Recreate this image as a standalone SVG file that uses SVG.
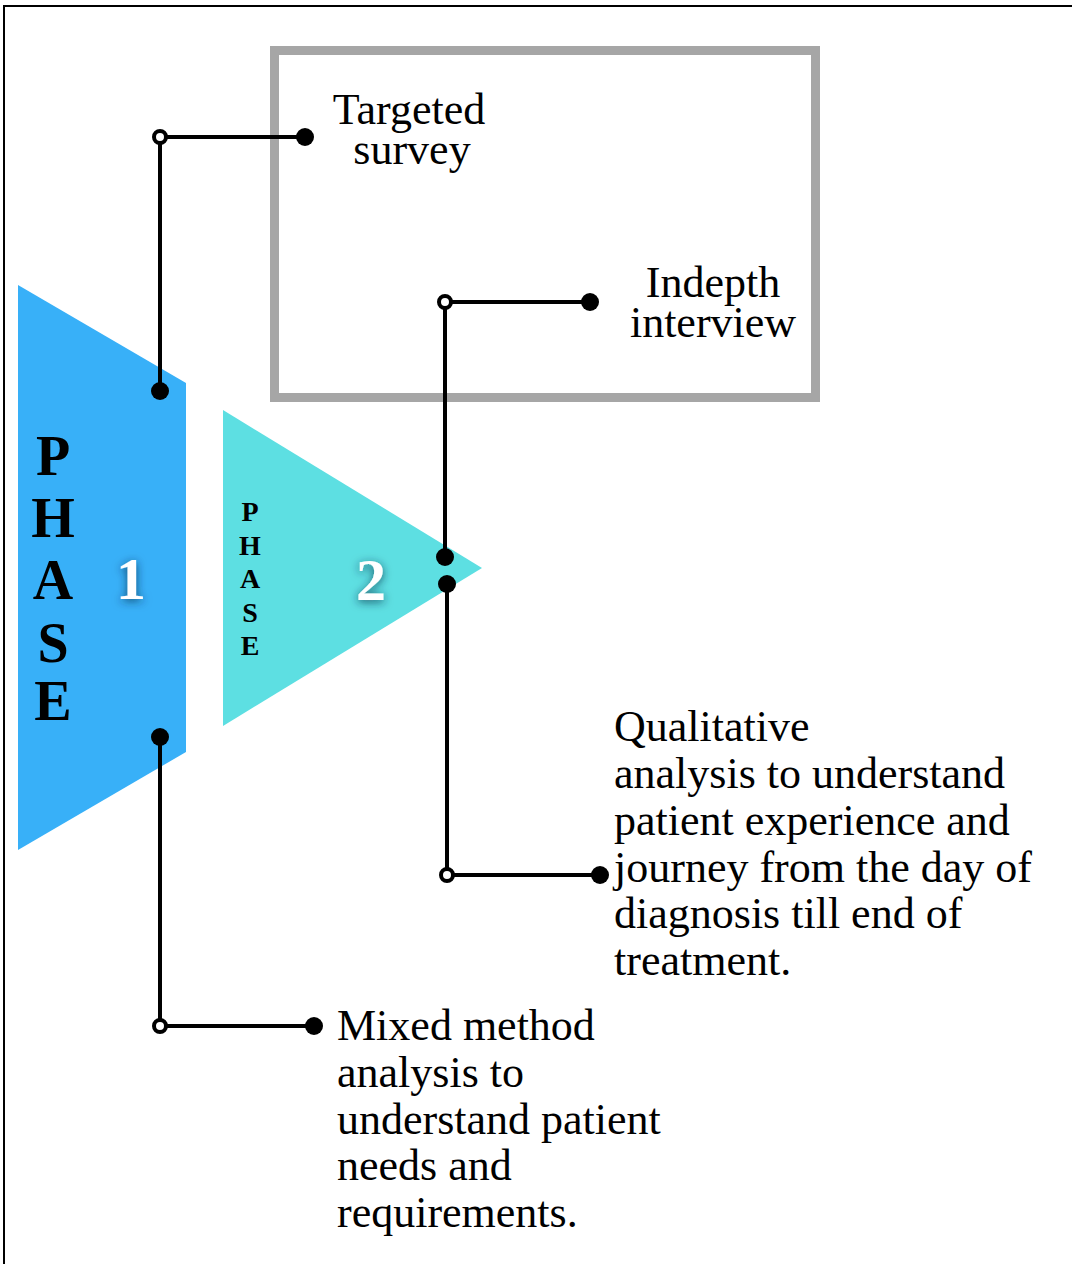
<svg xmlns="http://www.w3.org/2000/svg" width="1072" height="1264" viewBox="0 0 1072 1264">
<defs>
<style>
.lbl{font-family:"Liberation Serif","Times New Roman",serif;font-size:44px;fill:#000}
.big{font-family:"Liberation Serif","Times New Roman",serif;font-weight:bold;font-size:56px;fill:#000;text-anchor:middle}
.small{font-family:"Liberation Serif","Times New Roman",serif;font-weight:bold;font-size:28px;fill:#000;text-anchor:middle}
.num{font-family:"Liberation Serif","Times New Roman",serif;font-weight:bold;font-size:60px;fill:#fff;text-anchor:middle}
.wire{stroke:#000;stroke-width:4;fill:none}
.dot{fill:#000}
.ring{fill:#fff;stroke:#000;stroke-width:4}
</style>
<filter id="glow" x="-50%" y="-50%" width="200%" height="200%">
<feDropShadow dx="0" dy="2" stdDeviation="5" flood-color="#0a2a40" flood-opacity="0.75"/>
</filter>
</defs>
<rect x="0" y="0" width="1072" height="1264" fill="#fff"/>
<rect x="4" y="6" width="1080" height="1270" fill="none" stroke="#000" stroke-width="2"/>

<g id="box">
<rect x="274.5" y="50.5" width="541" height="347" fill="none" stroke="#a6a6a6" stroke-width="9"/>
</g>

<g id="phase1">
<polygon points="18,285 186,383 186,752 18,850" fill="#38b0f8"/>
<text class="big" x="53" y="475">P</text>
<text class="big" x="53" y="537">H</text>
<text class="big" x="53" y="599">A</text>
<text class="big" x="53" y="662">S</text>
<text class="big" x="53" y="720">E</text>
<text class="num" x="131" y="599" filter="url(#glow)">1</text>
</g>

<g id="phase2">
<polygon points="223,410 482,568 223,726" fill="#5ddfe2"/>
<text class="small" x="250" y="521">P</text>
<text class="small" x="250" y="555">H</text>
<text class="small" x="250" y="588">A</text>
<text class="small" x="250" y="622">S</text>
<text class="small" x="250" y="655">E</text>
<text class="num" x="371" y="600" filter="url(#glow)">2</text>
</g>

<g id="connectors">
<polyline class="wire" points="160,391 160,137 305,137"/>
<polyline class="wire" points="160,737 160,1026 314,1026"/>
<polyline class="wire" points="445,557 445,302 590,302"/>
<polyline class="wire" points="447,584 447,875 600,875"/>
<circle class="dot" cx="160" cy="391" r="9"/>
<circle class="ring" cx="160" cy="137" r="6"/>
<circle class="dot" cx="305" cy="137" r="9"/>
<circle class="dot" cx="160" cy="737" r="9"/>
<circle class="ring" cx="160" cy="1026" r="6"/>
<circle class="dot" cx="314" cy="1026" r="9"/>
<circle class="dot" cx="445" cy="557" r="9"/>
<circle class="ring" cx="445" cy="302" r="6"/>
<circle class="dot" cx="590" cy="302" r="9"/>
<circle class="dot" cx="447" cy="584" r="9"/>
<circle class="ring" cx="447" cy="875" r="6"/>
<circle class="dot" cx="600" cy="875" r="9"/>
</g>

<g id="survey">
<text class="lbl" x="409" y="124" text-anchor="middle">Targeted</text>
<text class="lbl" x="412" y="164" text-anchor="middle">survey</text>
</g>
<g id="interview">
<text class="lbl" x="713" y="297" text-anchor="middle">Indepth</text>
<text class="lbl" x="713" y="337" text-anchor="middle">interview</text>
</g>
<g id="qualitative">
<text class="lbl" x="614" y="741">Qualitative</text>
<text class="lbl" x="614" y="788">analysis to understand</text>
<text class="lbl" x="614" y="835">patient experience and</text>
<text class="lbl" x="614" y="882">journey from the day of</text>
<text class="lbl" x="614" y="928">diagnosis till end of</text>
<text class="lbl" x="614" y="975">treatment.</text>
</g>
<g id="mixed">
<text class="lbl" x="337" y="1040">Mixed method</text>
<text class="lbl" x="337" y="1087">analysis to</text>
<text class="lbl" x="337" y="1134">understand patient</text>
<text class="lbl" x="337" y="1180">needs and</text>
<text class="lbl" x="337" y="1227">requirements.</text>
</g>
</svg>
